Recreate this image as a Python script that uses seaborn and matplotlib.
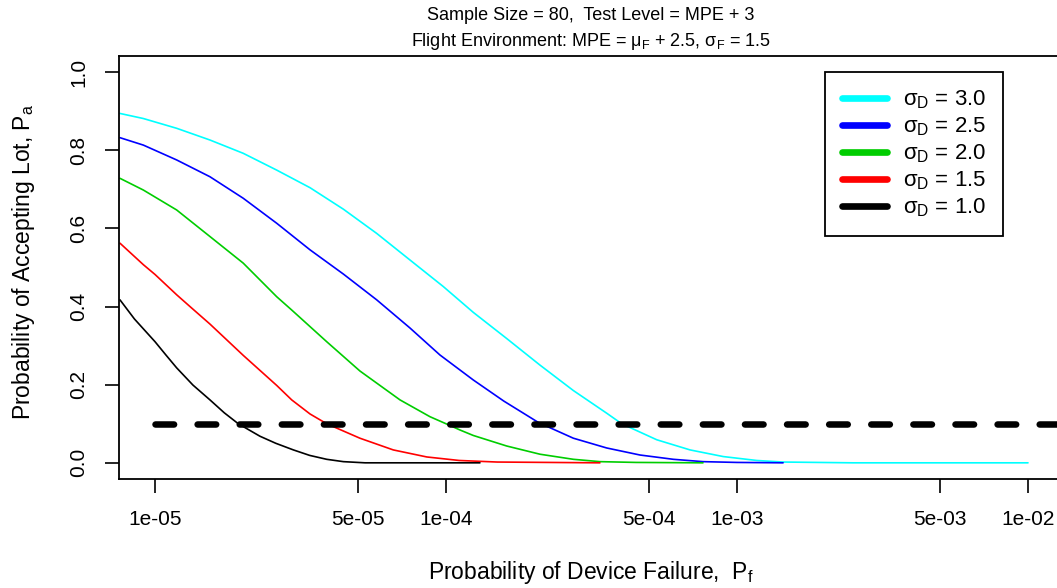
import numpy as np
import pandas as pd
import matplotlib
matplotlib.use("Agg")
import matplotlib.pyplot as plt
import seaborn as sns
from matplotlib.lines import Line2D
from matplotlib.ticker import NullLocator

# ---------------- data ----------------
sigma_labels = ["3.0", "2.5", "2.0", "1.5", "1.0"]
line_colors = ["#00FFFF", "#0000FF", "#00CD00", "#FF0000", "#000000"]

pf_sd30 = [7.58e-6, 9.12e-6, 1.187e-5, 1.545e-5, 2.01e-5, 2.62e-5, 3.41e-5, 4.44e-5,
           5.78e-5, 7.52e-5, 9.79e-5, 1.241e-4, 1.617e-4, 2.104e-4, 2.739e-4, 3.566e-4,
           4.016e-4, 5.30e-4, 6.90e-4, 8.97e-4, 1.169e-3, 1.439e-3, 2.5e-3, 1.0e-2]
pa_sd30 = [0.894, 0.881, 0.856, 0.826, 0.792, 0.749, 0.704, 0.649,
           0.587, 0.519, 0.451, 0.385, 0.318, 0.250, 0.185, 0.127,
           0.100, 0.059, 0.033, 0.016, 0.006, 0.002, 0.0, 0.0]

pf_sd25 = [7.58e-6, 9.12e-6, 1.187e-5, 1.545e-5, 2.01e-5, 2.62e-5, 3.41e-5, 4.44e-5,
           5.78e-5, 7.52e-5, 9.53e-5, 1.241e-4, 1.58e-4, 2.08e-4, 2.739e-4, 3.566e-4,
           4.64e-4, 6.04e-4, 7.64e-4, 1.0e-3, 1.44e-3]
pa_sd25 = [0.832, 0.813, 0.775, 0.732, 0.677, 0.613, 0.545, 0.483,
           0.417, 0.345, 0.276, 0.212, 0.158, 0.103, 0.063, 0.038,
           0.020, 0.009, 0.003, 0.001, 0.0]

pf_sd20 = [7.58e-6, 9.12e-6, 1.187e-5, 1.545e-5, 2.01e-5, 2.62e-5, 2.95e-5, 3.89e-5,
           5.06e-5, 6.95e-5, 8.81e-5, 1.0e-4, 1.117e-4, 1.241e-4, 1.617e-4, 2.104e-4,
           2.739e-4, 3.38e-4, 4.5e-4, 7.64e-4]
pa_sd20 = [0.728, 0.698, 0.647, 0.579, 0.511, 0.425, 0.391, 0.310,
           0.235, 0.161, 0.118, 0.100, 0.084, 0.070, 0.043, 0.022,
           0.009, 0.003, 0.001, 0.0]

pf_sd15 = [7.58e-6, 9.12e-6, 1.0e-5, 1.187e-5, 1.337e-5, 1.545e-5, 2.01e-5, 2.62e-5,
           2.95e-5, 3.41e-5, 3.89e-5, 5.06e-5, 6.59e-5, 8.59e-5, 1.11e-4, 1.5e-4, 3.38e-4]
pa_sd15 = [0.562, 0.507, 0.482, 0.430, 0.396, 0.355, 0.275, 0.198,
           0.161, 0.125, 0.100, 0.063, 0.033, 0.015, 0.006, 0.002, 0.0]

pf_sd10 = [7.58e-6, 8.5e-6, 1.0e-5, 1.09e-5, 1.187e-5, 1.35e-5, 1.545e-5, 1.73e-5,
           1.933e-5, 2.295e-5, 2.6e-5, 2.99e-5, 3.4e-5, 3.89e-5, 4.44e-5, 5.27e-5, 1.308e-4]
pa_sd10 = [0.417, 0.368, 0.310, 0.276, 0.243, 0.199, 0.161, 0.128,
           0.100, 0.068, 0.050, 0.033, 0.019, 0.009, 0.003, 0.0, 0.0]

cutoff_pf = [1.0e-5, 2.0e-2]
cutoff_pa = [0.1, 0.1]

xtick_vals = [1e-5, 5e-5, 1e-4, 5e-4, 1e-3, 5e-3, 1e-2]
xtick_labels = ["1e-05", "5e-05", "1e-04", "5e-04", "1e-03", "5e-03", "1e-02"]
ytick_vals = [0.0, 0.2, 0.4, 0.6, 0.8, 1.0]
ytick_labels = ["0.0", "0.2", "0.4", "0.6", "0.8", "1.0"]

title1 = "Sample Size = 80,  Test Level = MPE + 3"
title2 = r"Flight Environment: MPE = μ$_\mathregular{F}$ + 2.5, σ$_\mathregular{F}$ = 1.5"
xlabel = r"Probability of Device Failure,  P$_\mathregular{f}$"
ylabel = r"Probability of Accepting Lot, P$_\mathregular{a}$"

# ---------------- style ----------------
sns.set_style("white")
plt.rcParams['font.family'] = ['Liberation Sans', 'DejaVu Sans']
plt.rcParams['mathtext.fontset'] = 'custom'
plt.rcParams['mathtext.rm'] = 'Liberation Sans'
plt.rcParams['mathtext.it'] = 'Liberation Sans:italic'
plt.rcParams['text.color'] = 'black'
plt.rcParams['axes.labelcolor'] = 'black'

series = [(pf_sd30, pa_sd30), (pf_sd25, pa_sd25), (pf_sd20, pa_sd20),
          (pf_sd15, pa_sd15), (pf_sd10, pa_sd10)]
frames = []
for lab, (pf, pa) in zip(sigma_labels, series):
    frames.append(pd.DataFrame({"pf": pf, "pa": pa, "sd": lab}))
df = pd.concat(frames, ignore_index=True)
palette = dict(zip(sigma_labels, line_colors))

fig = plt.figure(figsize=(10.57, 5.88), dpi=100)
W, H = 1057, 588
ax = fig.add_axes([119 / W, (H - 479) / H, (1063 - 119) / W, (479 - 56) / H])

sns.lineplot(data=df, x="pf", y="pa", hue="sd", hue_order=sigma_labels,
             palette=palette, estimator=None, sort=False, legend=False,
             linewidth=1.2, ax=ax)

ax.plot(cutoff_pf, cutoff_pa, color="black", linewidth=4.7,
        linestyle=(0, (2.85, 3.6)), dash_capstyle="round", zorder=5)

ax.set_xscale("log")
ax.set_xlim(10 ** -5.1237, 10 ** -1.8797)
ax.set_ylim(-0.0414, 1.041)

ax.set_xticks(xtick_vals)
ax.set_xticklabels(xtick_labels)
ax.xaxis.set_minor_locator(NullLocator())
ax.set_yticks(ytick_vals)
ax.set_yticklabels(ytick_labels)
ax.tick_params(axis="both", which="major", direction="out", length=10, width=1.2,
               color="black", labelsize=15, pad=12, bottom=True, left=True,
               labelcolor="black")
for t in ax.get_yticklabels():
    t.set_rotation(90)
    t.set_va("center")

for s in ax.spines.values():
    s.set_visible(True)
    s.set_color("black")
    s.set_linewidth(1.3)

ax.set_xlabel(xlabel, fontsize=16.5)
ax.set_ylabel(ylabel, fontsize=16.5)
ax.xaxis.set_label_coords(0.5, -0.19)
ax.yaxis.set_label_coords(-0.087, 0.513)

fig.text(591 / W, 1 - 15 / H, title1, ha="center", va="center", fontsize=13)
fig.text(591 / W, 1 - 42 / H, title2, ha="center", va="center", fontsize=13)

handles = [Line2D([], [], color=c, linewidth=4.8, solid_capstyle="round") for c in line_colors]
labels = [r"σ$_\mathregular{D}$ = " + s for s in sigma_labels]
leg = ax.legend(handles, labels, loc="upper right", bbox_to_anchor=(0.9364, 0.9622),
                borderaxespad=0, fontsize=16, frameon=True, fancybox=False,
                edgecolor="black", framealpha=1, handlelength=2.05,
                handletextpad=0.7, borderpad=0.75, labelspacing=0.2)
leg.get_frame().set_linewidth(1.3)

fig.savefig("out.png", dpi=100)
